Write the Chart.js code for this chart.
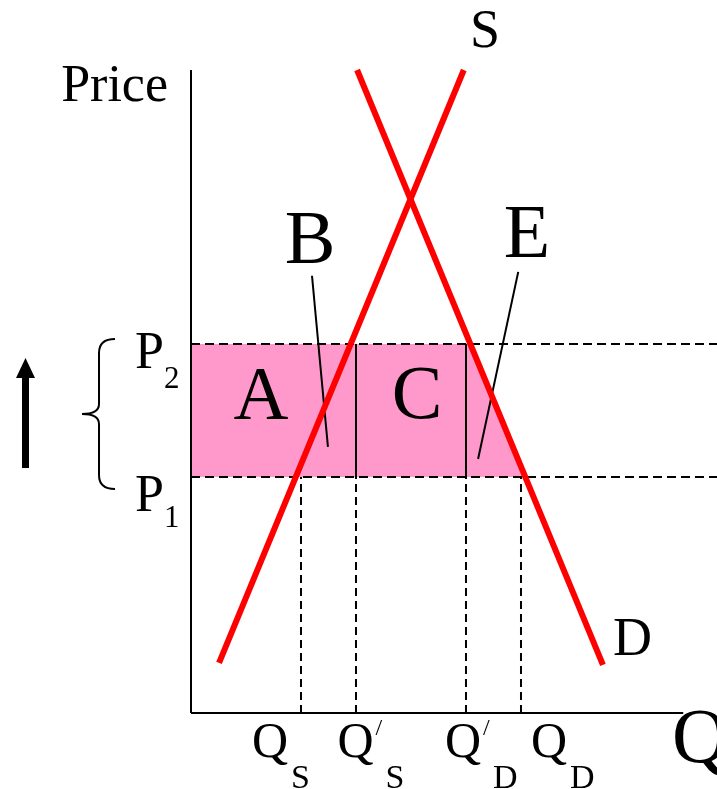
<!DOCTYPE html>
<html lang="en">
<head>
<meta charset="UTF-8">
<title>Price rise: supply and demand</title>
<style>
  body { margin: 0; background: #fff; }
  #wrap { width: 717px; height: 789px; }
</style>
</head>
<body>
<div id="wrap"><canvas id="chart" width="717" height="789"></canvas></div>
<script src="https://cdn.jsdelivr.net/npm/chart.js"></script>
<script>
// price levels P1, P2 and quantity marks on the Q axis
const priceLevels = [3.67, 5.74];
const priceNames = ['1', '2'];
const qTicks = [2, 3, 5, 6];            // Q_S, Q'_S, Q'_D, Q_D
const qSubs = ['S', 'S', 'D', 'D'];
const qPrimes = [false, true, true, false];

// supply and demand curves (end points)
const supplyQ = [0.51, 4.96];
const supplyP = [0.78, 10.0];
const demandQ = [3.02, 7.49];
const demandP = [10.0, 0.75];

// shaded area between P1 and P2, bounded by the demand curve
const areaQ = [0, 5.07, 6.07];
const areaP = [5.74, 5.74, 3.67];

// leader lines for the B and E labels
const leaderBQ = [2.2, 2.49];
const leaderBP = [6.8, 4.14];
const leaderEQ = [5.95, 5.22];
const leaderEP = [6.86, 3.95];

const serif = '"Liberation Serif", "DejaVu Serif", serif';

function seg(xs, ys, color, width, dash) {
    return {
        data: xs.map((x, i) => ({ x: x, y: ys[i] })),
        showLine: true,
        borderColor: color,
        borderWidth: width,
        borderDash: dash || [],
        pointRadius: 0,
        fill: false,
        clip: false
    };
}

const datasets = [];
// curves on top
datasets.push(seg(supplyQ, supplyP, '#ff0000', 6));
datasets.push(seg(demandQ, demandP, '#ff0000', 6));
// leader lines
datasets.push(seg(leaderBQ, leaderBP, '#000', 2));
datasets.push(seg(leaderEQ, leaderEP, '#000', 2));
// solid verticals between P1 and P2 at Q'_S and Q'_D
qTicks.forEach((q, i) => {
    if (qPrimes[i]) datasets.push(seg([q, q], [priceLevels[0], priceLevels[1]], '#000', 2));
});
// dashed guides down to the Q axis
qTicks.forEach(q => {
    datasets.push(seg([q, q], [0, priceLevels[0]], '#000', 2, [8, 5]));
});
// dashed price lines across
priceLevels.forEach(p => {
    datasets.push(seg([0, 9.564], [p, p], '#000', 2, [9, 5]));
});
// axes
datasets.push(seg([0, 0], [0, 10], '#000', 2));
datasets.push(seg([0, 8.95], [0, 0], '#000', 2));
// pink area, drawn at the back
datasets.push({
    data: areaQ.map((x, i) => ({ x: x, y: areaP[i] })),
    showLine: true,
    borderWidth: 0,
    borderColor: 'rgba(0,0,0,0)',
    backgroundColor: '#ff99cc',
    pointRadius: 0,
    fill: { value: priceLevels[0] }
});

const labelsPlugin = {
    id: 'labels',
    afterDatasetsDraw(chart) {
        const ctx = chart.ctx;
        const sx = chart.scales.x, sy = chart.scales.y;
        ctx.save();
        ctx.fillStyle = '#000';
        ctx.textBaseline = 'alphabetic';

        function text(str, x, y, size, align) {
            ctx.font = size + 'px ' + serif;
            ctx.textAlign = align || 'left';
            ctx.fillText(str, x, y);
        }

        text('Price', 168, 101, 52, 'right');
        text('S', 485, 47, 54, 'center');
        text('D', 613, 655, 54);
        text('A', 261, 419, 76, 'center');
        text('B', 310, 263, 76, 'center');
        text('C', 417, 418, 76, 'center');
        text('E', 527, 257, 76, 'center');
        text('Q', 672, 762, 78);

        // price labels
        const pOffsets = [34, 24];
        const subOffsets = [50, 44];
        priceLevels.forEach((p, i) => {
            const py = sy.getPixelForValue(p);
            text('P', 135, py + pOffsets[i], 52);
            text(priceNames[i], 164, py + subOffsets[i], 31);
        });

        // quantity labels
        const qLeft = [-49, -18.5, -21, 10];
        qTicks.forEach((q, i) => {
            const left = sx.getPixelForValue(q) + qLeft[i];
            ctx.font = '50px ' + serif;
            const w = ctx.measureText('Q').width;
            text('Q', left, 757, 50);
            let subX = left + w + 3;
            if (qPrimes[i]) {
                text('/', left + w + 2, 735, 24);
                subX = left + w + 12;
            }
            text(qSubs[i], subX, 788, 34);
        });

        // upward arrow
        const p1 = sy.getPixelForValue(priceLevels[0]);
        const p2 = sy.getPixelForValue(priceLevels[1]);
        ctx.fillRect(22, p2 + 30, 7, p1 - 9 - (p2 + 30));
        ctx.beginPath();
        ctx.moveTo(25.5, p2 + 14);
        ctx.lineTo(35, p2 + 34);
        ctx.lineTo(16, p2 + 34);
        ctx.closePath();
        ctx.fill();

        // curly brace
        const top = p2 - 5, bot = p1 + 12, mid = (top + bot) / 2;
        ctx.strokeStyle = '#000';
        ctx.lineWidth = 2;
        ctx.beginPath();
        ctx.moveTo(115, top);
        ctx.quadraticCurveTo(99, top, 99, top + 14);
        ctx.lineTo(99, mid - 10);
        ctx.quadraticCurveTo(99, mid, 82, mid);
        ctx.quadraticCurveTo(99, mid, 99, mid + 10);
        ctx.lineTo(99, bot - 14);
        ctx.quadraticCurveTo(99, bot, 115, bot);
        ctx.stroke();
        ctx.restore();
    }
};

new Chart(document.getElementById('chart'), {
    type: 'scatter',
    data: { datasets: datasets },
    options: {
        responsive: false,
        animation: false,
        devicePixelRatio: 1,
        layout: { padding: { left: 191, top: 70, right: 0, bottom: 76 } },
        scales: {
            x: { type: 'linear', display: false, min: 0, max: 9.564 },
            y: { type: 'linear', display: false, min: 0, max: 10 }
        },
        plugins: {
            legend: { display: false },
            tooltip: { enabled: false }
        }
    },
    plugins: [labelsPlugin]
});
</script>
</body>
</html>
